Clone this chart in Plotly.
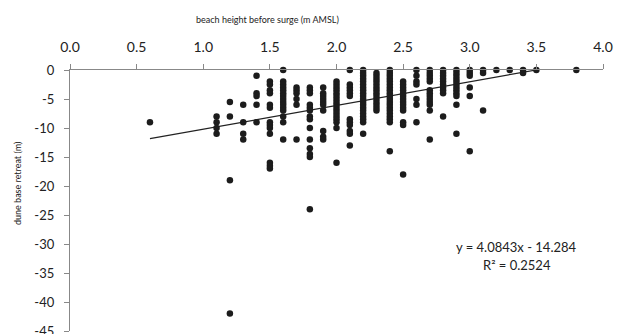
import plotly.graph_objects as go

# beach height (m AMSL) columns and dune base retreat values (m)
col_x = [0.6, 1.1, 1.2, 1.3, 1.4, 1.5, 1.6, 1.7, 1.8, 1.9, 2.0, 2.1, 2.2, 2.3, 2.4,
         2.5, 2.6, 2.7, 2.8, 2.9, 3.0, 3.1, 3.2, 3.3, 3.4, 3.5, 3.8]
col_y = [
    [-9],
    [-8, -9, -10, -11],
    [-5.5, -8, -19, -42],
    [-6, -9, -11, -12],
    [-1, -4, -4.5, -6, -9],
    [-2, -2.5, -3.5, -4, -6, -6.5, -9, -9.5, -10, -11, -16, -16.5, -17],
    [0, -2, -2.5, -3, -3.5, -4, -4.5, -5, -5.5, -6, -6.5, -7, -8, -9, -12],
    [-3, -3.5, -4, -5, -6, -12],
    [-3, -3.5, -4, -6, -6.5, -7, -8, -8.5, -10, -12, -13.5, -14.5, -15, -24],
    [-3, -4, -4.5, -5, -5.5, -6, -7, -10.5, -11.5, -12],
    [-2, -2.5, -3, -3.5, -4, -4.5, -5, -5.5, -6, -6.5, -7, -7.5, -8, -8.5, -9, -10, -16],
    [0, -2.5, -3, -3.5, -4, -4.5, -8.5, -9, -9.5, -10.5, -11, -13],
    [0, -0.5, -1, -1.5, -2, -2.5, -3, -3.5, -4, -4.5, -5, -5.5, -6, -6.5, -7, -7.5, -8, -8.5, -9, -11],
    [-0.5, -1, -1.5, -2, -2.5, -3, -3.5, -4, -4.5, -5, -5.5, -6, -6.5, -7],
    [0, -0.5, -1, -1.5, -2, -2.5, -3, -3.5, -4, -4.5, -5, -5.5, -6, -6.5, -7, -7.5, -8, -8.5, -9, -14],
    [-2, -2.5, -3, -3.5, -4, -4.5, -5, -5.5, -6, -6.5, -7, -9, -9.5, -18],
    [0, -1, -2, -2.5, -5, -6, -9],
    [0, -0.5, -1, -1.5, -2, -3.5, -4, -4.5, -5, -5.5, -6, -7, -12],
    [0, -0.5, -1, -1.5, -2, -2.5, -3, -3.5, -4, -8],
    [0, -0.5, -1, -1.5, -2, -2.5, -3, -3.5, -4, -4.5, -6, -11],
    [0, -0.5, -1, -3, -4.5, -14],
    [0, -0.5, -7],
    [0],
    [0],
    [0, -0.5],
    [0],
    [0],
]

slope = 4.0843
intercept = -14.284
x_tick_vals = [0.0, 0.5, 1.0, 1.5, 2.0, 2.5, 3.0, 3.5, 4.0]
y_tick_vals = [0, -5, -10, -15, -20, -25, -30, -35, -40, -45]
y_tick_text = ["0", "-5", "-10", "-15", "-20", "-25", "-30", "-35", "-40", "-45"]

xs, ys = [], []
for cx, cy in zip(col_x, col_y):
    for v in cy:
        xs.append(cx)
        ys.append(v)

trend_x = [min(xs), max(xs)]
trend_y = [slope * v + intercept for v in trend_x]

FONT = "Lato"
fig = go.Figure()
fig.add_trace(go.Scatter(x=trend_x, y=trend_y, mode="lines",
                         line=dict(color="#222222", width=1.2), showlegend=False,
                         hoverinfo="skip"))
fig.add_trace(go.Scatter(x=xs, y=ys, mode="markers", cliponaxis=False,
                         marker=dict(size=6.5, color="#1c1c1c"), showlegend=False))

fig.update_layout(
    width=625, height=334,
    margin=dict(l=69.5, r=22, t=70, b=3),
    paper_bgcolor="white", plot_bgcolor="white",
    font=dict(family=FONT, color="#222222"),
    xaxis=dict(side="top", range=[0, 4], tickvals=x_tick_vals, tickformat=".1f",
               showline=True, linecolor="#888888", linewidth=1.3,
               ticks="outside", ticklen=5, tickcolor="#888888",
               showgrid=False, zeroline=False, tickfont=dict(size=14, family=FONT),
               ticklabelstandoff=6, automargin=False),
    yaxis=dict(range=[-45, 0], tickvals=y_tick_vals, ticktext=y_tick_text,
               showline=True, linecolor="#888888", linewidth=1.3,
               ticks="outside", ticklen=5, tickcolor="#888888",
               showgrid=False, zeroline=False, tickfont=dict(size=13, family=FONT),
               ticklabelstandoff=7, ticklabeloverflow="allow", automargin=False),
    annotations=[
        dict(text="beach height before surge (m AMSL)", xref="paper", yref="paper",
             x=0.37, y=1.195, xanchor="center", yanchor="middle", showarrow=False,
             font=dict(size=9, family=FONT)),
        dict(text="dune base retreat (m)", xref="paper", yref="paper",
             x=-0.098, y=0.566, xanchor="center", yanchor="middle", textangle=-90,
             showarrow=False, font=dict(size=9, family=FONT)),
        dict(text="y = 4.0843x - 14.284", xref="paper", yref="paper",
             x=0.838, y=0.3215, xanchor="center", yanchor="middle", showarrow=False,
             font=dict(size=13, family=FONT)),
        dict(text="R² = 0.2524", xref="paper", yref="paper",
             x=0.838, y=0.2515, xanchor="center", yanchor="middle", showarrow=False,
             font=dict(size=13, family=FONT)),
    ],
)

fig.write_html("out.html")
